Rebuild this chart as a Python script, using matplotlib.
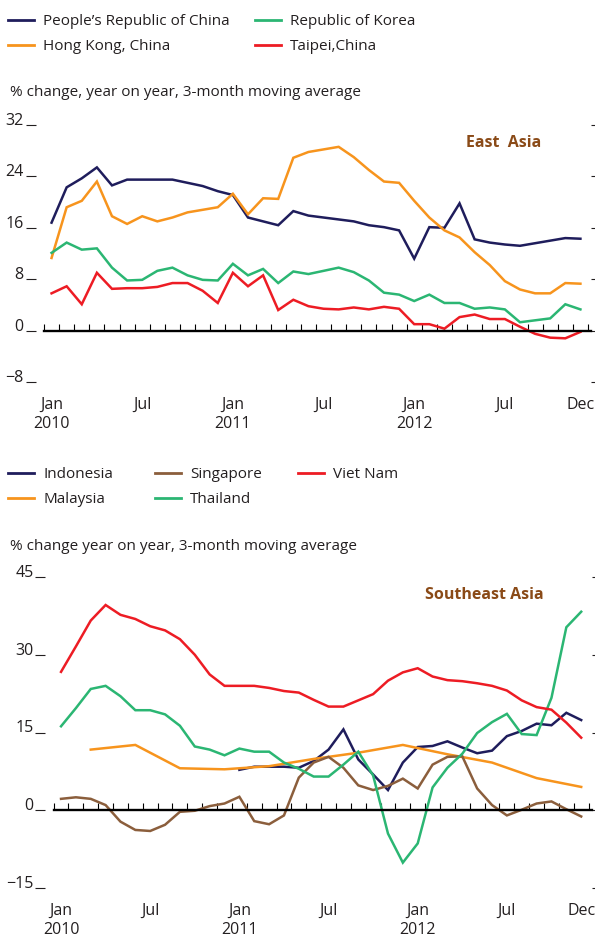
import numpy as np
import matplotlib.pyplot as plt
from matplotlib.lines import Line2D

plt.rcParams['font.family'] = ['Open Sans', 'DejaVu Sans']

# months Jan 2010 .. Dec 2012
months = np.arange(36)
tick_pos = [0, 6, 12, 18, 24, 30, 35]
tick_labels = ['Jan\n2010', 'Jul', 'Jan\n2011', 'Jul', 'Jan\n2012', 'Jul', 'Dec']

# East Asia
prc = [16.8, 22.3, 23.7, 25.4, 22.6, 23.5, 23.5, 23.5, 23.5, 23.0, 22.5, 21.7,
       21.1, 17.6, 17.0, 16.4, 18.6, 17.9, 17.6, 17.3, 17.0, 16.4, 16.1, 15.6,
       11.2, 16.1, 16.0, 19.8, 14.2, 13.7, 13.4, 13.2, 13.6, 14.0, 14.4, 14.3]
hongkong = [11.3, 19.2, 20.2, 23.2, 17.8, 16.6, 17.8, 17.0, 17.6, 18.4, 18.8, 19.2,
            21.3, 18.1, 20.6, 20.5, 26.9, 27.8, 28.2, 28.6, 27.0, 25.0, 23.2, 23.0,
            20.2, 17.6, 15.6, 14.5, 12.2, 10.2, 7.7, 6.4, 5.8, 5.8, 7.4, 7.3]
korea = [12.1, 13.7, 12.6, 12.8, 9.8, 7.8, 7.9, 9.3, 9.8, 8.6, 7.9, 7.8,
         10.4, 8.6, 9.6, 7.4, 9.2, 8.8, 9.3, 9.8, 9.1, 7.8, 5.9, 5.6,
         4.6, 5.6, 4.3, 4.3, 3.4, 3.6, 3.3, 1.3, 1.6, 1.9, 4.1, 3.3]
taipei = [5.8, 6.9, 4.1, 9.0, 6.5, 6.6, 6.6, 6.8, 7.4, 7.4, 6.2, 4.3,
          9.0, 6.9, 8.6, 3.2, 4.8, 3.8, 3.4, 3.3, 3.6, 3.3, 3.7, 3.4,
          1.0, 1.0, 0.3, 2.1, 2.5, 1.8, 1.8, 0.6, -0.5, -1.1, -1.2, -0.2]

# Southeast Asia
indonesia = [None] * 12 + [7.8, 8.4, 8.4, 8.4, 8.2, 9.5, 11.7, 15.6, 9.8, 6.9, 3.9, 9.2,
                           12.2, 12.4, 13.3, 12.1, 11.0, 11.5, 14.3, 15.3, 16.7, 16.4, 18.8, 17.4]
malaysia = [None, None, 11.7, None, None, 12.6, None, None, 8.1, None, None, 7.9,
            None, None, 8.5, None, None, 9.9, None, None, 11.1, None, None, 12.6,
            None, None, 10.8, None, None, 9.2, None, None, 6.2, None, None, 4.5]
singapore = [2.2, 2.5, 2.2, 1.0, -2.2, -3.8, -4.0, -2.8, -0.3, -0.1, 0.8, 1.3,
             2.6, -2.1, -2.7, -1.0, 6.3, 9.2, 10.3, 8.2, 4.8, 3.9, 4.7, 6.1,
             4.2, 8.8, 10.3, 10.4, 4.2, 1.0, -1.0, 0.1, 1.3, 1.7, 0.2, -1.2]
thailand = [16.2, 19.7, 23.4, 24.0, 22.0, 19.3, 19.3, 18.5, 16.3, 12.3, 11.7, 10.6,
            11.9, 11.3, 11.3, 9.2, 8.0, 6.5, 6.5, 8.8, 11.3, 6.7, -4.5, -10.1,
            -6.4, 4.4, 8.2, 10.9, 14.9, 17.0, 18.6, 14.7, 14.5, 21.7, 35.3, 38.3]
vietnam = [26.7, 31.6, 36.6, 39.6, 37.7, 36.9, 35.5, 34.7, 33.0, 30.0, 26.2, 24.0,
           24.0, 24.0, 23.6, 23.0, 22.7, 21.3, 20.0, 20.0, 21.2, 22.4, 25.0, 26.6,
           27.4, 25.8, 25.1, 24.9, 24.5, 24.0, 23.1, 21.2, 19.9, 19.4, 16.9, 14.0]

NAVY = '#1f1d5c'
ORANGE = '#f7941d'
GREEN = '#2bb673'
RED = '#ed1c24'
BROWN = '#8b5e3c'
TITLE = '#8a4a17'
TXT = '#231f20'

east = [("People\u2019s Republic of China", prc, NAVY),
        ("Hong Kong, China", hongkong, ORANGE),
        ("Republic of Korea", korea, GREEN),
        ("Taipei,China", taipei, RED)]
southeast = [("Indonesia", indonesia, NAVY),
             ("Malaysia", malaysia, ORANGE),
             ("Singapore", singapore, BROWN),
             ("Thailand", thailand, GREEN),
             ("Viet Nam", vietnam, RED)]


def style_axis(ax, yticks, ylim):
    ax.set_xlim(-0.5, 35.7)
    ax.set_ylim(*ylim)
    for s in ['top', 'right', 'left']:
        ax.spines[s].set_visible(False)
    ax.spines['left'].set_position(('outward', 6))
    # zero line with monthly ticks
    ax.spines['bottom'].set_position(('data', 0))
    ax.spines['bottom'].set_linewidth(1.7)
    ax.set_xticks(np.arange(-0.5, 36, 1))
    ax.tick_params(axis='x', direction='in', length=5, width=0.8, labelbottom=False)
    ax.set_yticks(yticks)
    ax.set_yticklabels(['\u2212' + str(-t) if t < 0 else str(t) for t in yticks])
    ax.tick_params(axis='y', direction='out', length=7, width=0.8, pad=1.5,
                   labelsize=11.5, colors=TXT, right=True)
    for lab in ax.get_yticklabels():
        lab.set_verticalalignment('baseline')
    sec = ax.secondary_xaxis('bottom')
    sec.set_xticks(tick_pos, tick_labels)
    sec.tick_params(length=0, pad=11, labelsize=11.5, colors=TXT)
    for lab in sec.get_xticklabels():
        lab.set_linespacing(1.25)
    sec.spines['bottom'].set_visible(False)


def draw(ax, series):
    for name, vals, c in series:
        y = np.array([np.nan if v is None else v for v in vals], dtype=float)
        ok = ~np.isnan(y)
        ax.plot(months[ok], y[ok], color=c, lw=1.8, solid_joinstyle='miter')


def legend_column(items, x, y):
    hs = [Line2D([], [], color=c, lw=2) for _, _, c in items]
    leg = fig.legend(hs, [n for n, _, _ in items], loc='upper left',
                     bbox_to_anchor=(x / 595, 1 - y / 938), frameon=False, fontsize=11,
                     handlelength=1.7, handletextpad=0.6, labelspacing=0.65,
                     borderpad=0, borderaxespad=0, labelcolor=TXT)
    return leg


fig = plt.figure(figsize=(5.95, 9.38), dpi=100)

ax1 = fig.add_axes([44 / 595, 1 - 382 / 938, 547 / 595, 257 / 938])
draw(ax1, east)
style_axis(ax1, [-8, 0, 8, 16, 24, 32], (-8, 32))
ax1.text(0.84, 0.93, 'East  Asia', transform=ax1.transAxes, ha='center', va='center',
         fontsize=11.5, fontweight='bold', color=TITLE)

ax2 = fig.add_axes([53.6 / 595, 1 - 888 / 938, 538 / 595, 311 / 938])
draw(ax2, southeast)
style_axis(ax2, [-15, 0, 15, 30, 45], (-15, 45))
ax2.text(0.80, 0.942, 'Southeast Asia', transform=ax2.transAxes, ha='center', va='center',
         fontsize=11.5, fontweight='bold', color=TITLE)

legend_column(east[:2], 8, 14)
legend_column(east[2:], 255, 14)
legend_column(southeast[:2], 8, 467)
legend_column(southeast[2:4], 155, 467)
legend_column(southeast[4:], 298, 467)

fig.text(10 / 595, 1 - 93 / 938, '% change, year on year, 3-month moving average',
         fontsize=11, va='center', color=TXT)
fig.text(10 / 595, 1 - 546 / 938, '% change year on year, 3-month moving average',
         fontsize=11, va='center', color=TXT)

fig.savefig('out.png', dpi=100)
